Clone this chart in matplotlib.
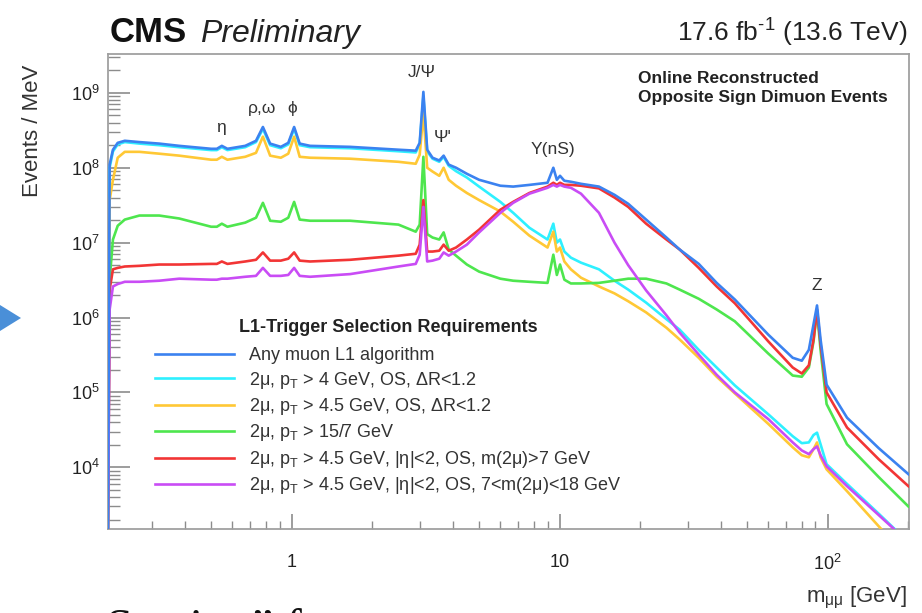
import matplotlib
matplotlib.use("Agg")
import matplotlib.pyplot as plt
from matplotlib.patches import Polygon
from matplotlib.ticker import FixedLocator, FixedFormatter, LogLocator, NullFormatter

plt.rcParams['font.family'] = ['Liberation Sans', 'DejaVu Sans']
plt.rcParams['mathtext.fontset'] = 'custom'
plt.rcParams['mathtext.rm'] = 'Liberation Sans'
plt.rcParams['mathtext.it'] = 'Liberation Sans:italic'
plt.rcParams['mathtext.bf'] = 'Liberation Sans:bold'

# dimuon mass grid [GeV]
mass = [0.206, 0.209, 0.215, 0.224, 0.238, 0.27, 0.32, 0.38, 0.50, 0.525,
        0.548, 0.575, 0.67, 0.735, 0.78, 0.83, 0.91, 0.97, 1.02, 1.07,
        1.17, 1.65, 2.5, 2.9, 3.0, 3.097, 3.2, 3.35, 3.55, 3.686,
        3.85, 4.1, 4.5, 5.0, 6.0, 6.7, 7.7, 9.0, 9.46, 9.75,
        10.02, 10.4, 11.0, 12.0, 14.0, 16.0, 18.0, 21.0, 25.0, 28.0,
        33.0, 38.5, 45.0, 60.0, 74.0, 80.0, 85.0, 88.5, 91.19, 94.0,
        99.0, 118.0, 155.0, 200.0]

# Events / MeV for each trigger selection
any_l1 = [1.5e3, 1.1e8, 1.74e8, 2.15e8, 2.29e8, 2.2e8, 2.1e8, 1.96e8, 1.79e8, 1.79e8,
          1.96e8, 1.79e8, 1.96e8, 2.29e8, 3.5e8, 2.1e8, 1.9e8, 2.15e8, 3.5e8, 2.1e8,
          1.96e8, 1.9e8, 1.74e8, 1.69e8, 2.15e8, 1.03e9, 1.74e8, 1.36e8, 1.25e8, 1.45e8,
          1.1e8, 1.0e8, 8.3e7, 6.9e7, 5.75e7, 5.6e7, 5.9e7, 6.3e7, 1.0e8, 6.9e7,
          7.8e7, 6.7e7, 6.5e7, 6.1e7, 5.6e7, 4.35e7, 3.3e7, 2.03e7, 1.17e7, 8.1e6,
          5.2e6, 2.9e6, 1.74e6, 5.9e5, 2.9e5, 2.65e5, 3.7e5, 8.1e5, 1.45e6, 5.1e5,
          1.27e5, 4.6e4, 1.8e4, 8.1e3]
pt4_dr = [1.5e3, 1.0e8, 1.65e8, 2.05e8, 2.2e8, 2.1e8, 2.0e8, 1.88e8, 1.72e8, 1.72e8,
          1.88e8, 1.72e8, 1.88e8, 2.2e8, 3.3e8, 2.0e8, 1.82e8, 2.05e8, 3.3e8, 2.0e8,
          1.88e8, 1.82e8, 1.66e8, 1.6e8, 2.05e8, 9.0e8, 1.65e8, 1.32e8, 1.2e8, 1.4e8,
          1.06e8, 9.0e7, 7.4e7, 5.6e7, 3.5e7, 2.5e7, 1.58e7, 1.1e7, 1.79e7, 1.0e7,
          1.1e7, 7.6e6, 6.3e6, 5.4e6, 4.4e6, 3.1e6, 2.36e6, 1.58e6, 9.5e5, 6.9e5,
          3.7e5, 2.15e5, 1.24e5, 5.1e4, 2.6e4, 2.1e4, 2.15e4, 2.7e4, 2.9e4, 2.03e4,
          1.1e4, 6.0e3, 2.4e3, 1.0e3]
pt45_dr = [1.5e3, 3.7e7, 6.9e7, 1.36e8, 1.63e8, 1.63e8, 1.54e8, 1.45e8, 1.28e8, 1.28e8,
           1.4e8, 1.28e8, 1.4e8, 1.58e8, 2.6e8, 1.45e8, 1.36e8, 1.54e8, 2.6e8, 1.4e8,
           1.36e8, 1.32e8, 1.2e8, 1.13e8, 1.49e8, 5.4e8, 1.0e8, 8.9e7, 7.8e7, 1.0e8,
           6.9e7, 5.75e7, 4.6e7, 3.7e7, 2.6e7, 1.9e7, 1.24e7, 8.6e6, 1.4e7, 7.6e6,
           8.6e6, 5.6e6, 4.4e6, 3.4e6, 2.6e6, 2.1e6, 1.65e6, 1.17e6, 7.3e5, 5.1e5,
           2.9e5, 1.62e5, 9.7e4, 3.8e4, 1.85e4, 1.45e4, 1.36e4, 1.75e4, 2.15e4, 1.36e4,
           9.4e3, 4.8e3, 1.63e3, 6.0e2]
pt15_7 = [1.5e3, 3.2e6, 1.1e7, 1.68e7, 2.03e7, 2.3e7, 2.3e7, 2.1e7, 1.63e7, 1.63e7,
          1.79e7, 1.63e7, 1.85e7, 2.15e7, 3.4e7, 1.96e7, 1.9e7, 2.15e7, 3.5e7, 2.03e7,
          1.96e7, 1.96e7, 1.74e7, 1.4e7, 1.74e7, 1.4e8, 1.3e7, 1.17e7, 1.1e7, 1.37e7,
          8.1e6, 6.7e6, 5.1e6, 4.1e6, 3.3e6, 3.1e6, 3.0e6, 2.9e6, 6.9e6, 3.7e6,
          5.1e6, 3.2e6, 2.85e6, 2.85e6, 2.9e6, 3.1e6, 3.3e6, 3.3e6, 2.85e6, 2.36e6,
          1.78e6, 1.28e6, 8.9e5, 3.3e5, 1.68e5, 1.62e5, 2.15e5, 4.8e5, 1.21e6, 3.7e5,
          7.0e4, 2.03e4, 7.4e3, 3.0e3]
eta_m7 = [1.5e3, 2.36e6, 4.4e6, 4.6e6, 4.8e6, 4.9e6, 5.1e6, 5.1e6, 5.2e6, 5.2e6,
          5.6e6, 5.2e6, 5.6e6, 5.9e6, 7.4e6, 5.75e6, 5.75e6, 6.1e6, 7.4e6, 5.75e6,
          5.6e6, 5.9e6, 6.7e6, 7.1e6, 9.4e6, 3.7e7, 7.6e6, 7.6e6, 7.8e6, 9.4e6,
          7.8e6, 8.6e6, 1.1e7, 1.49e7, 2.75e7, 3.5e7, 4.6e7, 5.6e7, 6.3e7, 5.9e7,
          6.3e7, 5.9e7, 5.9e7, 5.75e7, 5.3e7, 4.0e7, 3.0e7, 1.79e7, 1.1e7, 8.1e6,
          4.6e6, 2.6e6, 1.55e6, 4.8e5, 2.15e5, 1.79e5, 2.3e5, 5.1e5, 1.28e6, 4.4e5,
          1.0e5, 3.4e4, 1.28e4, 5.6e3]
eta_m7_18 = [1.5e3, 1.28e6, 2.6e6, 2.8e6, 3.0e6, 3.0e6, 3.1e6, 3.3e6, 3.2e6, 3.2e6,
             3.3e6, 3.3e6, 3.5e6, 3.6e6, 4.6e6, 3.6e6, 3.6e6, 3.7e6, 4.6e6, 3.6e6,
             3.5e6, 3.8e6, 4.8e6, 5.2e6, 6.9e6, 3.0e7, 5.6e6, 5.75e6, 6.1e6, 7.4e6,
             6.7e6, 7.6e6, 9.4e6, 1.37e7, 2.5e7, 3.4e7, 4.5e7, 5.4e7, 5.9e7, 5.6e7,
             5.9e7, 5.6e7, 5.4e7, 4.5e7, 2.5e7, 1.0e7, 5.0e6, 2.3e6, 1.07e6, 6.3e5,
             3.2e5, 1.72e5, 1.0e5, 4.4e4, 2.15e4, 1.68e4, 1.5e4, 1.75e4, 1.9e4, 1.45e4,
             1.03e4, 5.6e3, 2.3e3, 1.0e3]

labels = ['Any muon L1 algorithm',
          '2μ, p$_\\mathregular{T}$ > 4 GeV, OS, ΔR<1.2',
          '2μ, p$_\\mathregular{T}$ > 4.5 GeV, OS, ΔR<1.2',
          '2μ, p$_\\mathregular{T}$ > 15/7 GeV',
          '2μ, p$_\\mathregular{T}$ > 4.5 GeV, |η|<2, OS, m(2μ)>7 GeV',
          '2μ, p$_\\mathregular{T}$ > 4.5 GeV, |η|<2, OS, 7<m(2μ)<18 GeV']
colors = ['#3b82f0', '#2ef0ff', '#ffc835', '#4ee64e', '#f23535', '#c94cf5']
series = [any_l1, pt4_dr, pt45_dr, pt15_7, eta_m7, eta_m7_18]
zorders = [9, 3, 4, 5, 6, 7]

resonances = ['η', 'ρ,ω', 'ϕ', 'J/Ψ', "Ψ'", 'Υ(nS)', 'Z']
res_pos = [(0.141, 0.846), (0.192, 0.886), (0.230, 0.886), (0.392, 0.962),
           (0.418, 0.825), (0.556, 0.798), (0.885, 0.512)]

fig = plt.figure(figsize=(9.22, 6.13), dpi=100)
ax = fig.add_axes([0.1171, 0.137, 0.8688, 0.7749])

handles = []
for vals, c, lab, z in zip(series, colors, labels, zorders):
    h, = ax.plot(mass, vals, color=c, lw=1.9, label=lab, zorder=z, solid_joinstyle='round')
    handles.append(h)

ax.set_xscale('log')
ax.set_yscale('log')
ax.set_xlim(0.206, 201)
ax.set_ylim(1.5e3, 3.3e9)

ax.xaxis.set_major_locator(FixedLocator([1, 10, 100]))
ax.xaxis.set_major_formatter(FixedFormatter(['1', '10', '10$^{2}$']))
ax.xaxis.set_minor_locator(LogLocator(base=10, subs=range(2, 10), numticks=20))
ax.xaxis.set_minor_formatter(NullFormatter())
ax.yaxis.set_major_locator(LogLocator(base=10, numticks=20))
ax.yaxis.set_minor_locator(LogLocator(base=10, subs=range(2, 10), numticks=20))
ax.yaxis.set_minor_formatter(NullFormatter())

ax.tick_params(axis='both', which='both', direction='in', color='#8c8c8c',
               top=False, right=False, labelsize=13, labelcolor='#222222')
ax.tick_params(axis='y', which='major', length=16, width=1.2, pad=6)
ax.tick_params(axis='y', which='minor', length=8.5, width=1.0)
ax.tick_params(axis='x', which='major', length=11, width=1.2, pad=18)
ax.tick_params(axis='x', which='minor', length=6, width=1.0)
for sp in ax.spines.values():
    sp.set_color('#a0a0a0')
    sp.set_linewidth(1.3)

for name, (px, py) in zip(resonances, res_pos):
    ax.text(px, py, name, transform=ax.transAxes, ha='center', va='center',
            fontsize=12.5, color='#333333')

ax.text(0.662, 0.928, 'Online Reconstructed\nOpposite Sign Dimuon Events',
        transform=ax.transAxes, ha='left', va='center', fontsize=12.5,
        fontweight='bold', color='#222222', linespacing=1.35)

leg = ax.legend(handles=handles, loc='upper left', bbox_to_anchor=(0.0587, 0.442),
                frameon=False, fontsize=13, title='L1-Trigger Selection Requirements',
                title_fontproperties={'weight': 'bold', 'size': 13},
                handlelength=4.4, handletextpad=0.8, labelspacing=0.3,
                borderpad=0, borderaxespad=0)
leg._legend_box.sep = 8
for t in leg.get_texts():
    t.set_color('#333333')
leg.get_title().set_color('#222222')

fig.text(110 / 922, 1 - 42 / 613, 'CMS', fontsize=25, fontweight='bold', ha='left',
         va='baseline', color='#111111')
fig.text(200 / 922, 1 - 42 / 613, 'Preliminary', fontsize=23, style='italic',
         ha='left', va='baseline', color='#222222')
fig.text(907 / 922, 1 - 42 / 613, '17.6 fb$^{\\mathregular{\u2010}1}$ (13.6 TeV)', fontsize=19,
         ha='right', va='baseline', color='#222222')
fig.text(32 / 922, 1 - 65 / 613, 'Events / MeV', fontsize=16, rotation=90,
         ha='center', va='top', color='#333333')
fig.text(907 / 922, 1 - 598 / 613, 'm$_{\\mathregular{μμ}}$ [GeV]', fontsize=16,
         ha='right', va='center', color='#333333')

# slide decoration around the screenshot
fig.add_artist(Polygon([[0, 1 - 305 / 613], [21 / 922, 1 - 318 / 613], [0, 1 - 331 / 613]],
                       closed=True, transform=fig.transFigure, color='#4a8fd8', lw=0))
fig.text(106 / 922, -0.047, 'Section” f', fontsize=35, family='Liberation Serif',
         ha='left', va='baseline', color='#111111')

fig.savefig('out.png', dpi=100)
